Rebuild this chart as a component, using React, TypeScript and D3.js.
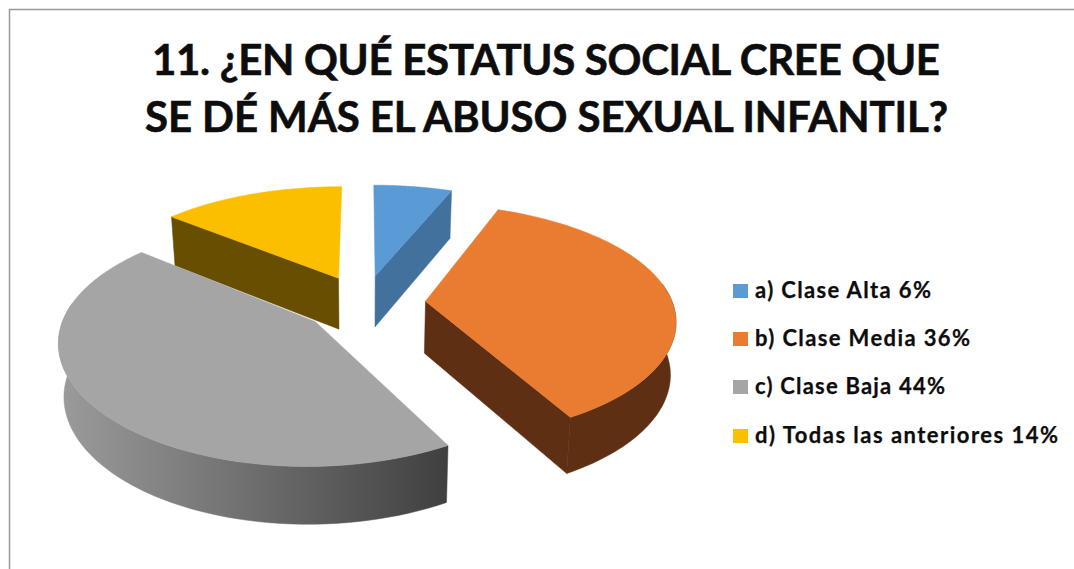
import React from "react"
import * as d3 from "d3"

const categories = ["a) Clase Alta", "b) Clase Media", "c) Clase Baja", "d) Todas las anteriores"]
const values = [6, 36, 44, 14]
const topColors = ["#5B9BD5", "#EA7C31", "#A5A5A5", "#FCBF00"]
const wallColors = ["#43719E", "#5F2F13", "url(#grayWall)", "#674E00"]
const titleLines = ["11. ¿EN QUÉ ESTATUS SOCIAL CREE QUE", "SE DÉ MÁS EL ABUSO SEXUAL INFANTIL?"]

const width = 1074
const height = 569
const font = "Lato, Carlito, sans-serif"

// fake 3d: disc coords go through a small perspective before the scales
const cx = 364
const cy = 303
const rx = 247
const ry = 114
const perspX = 0.145
const perspY = 0.165
const depth = 52
const explode = 0.25

const xScale = d3.scaleLinear().domain([-1, 1]).range([cx - rx, cx + rx])
const yScale = d3.scaleLinear().domain([-1, 1]).range([cy + ry, cy - ry])

const project = (u: number, v: number, z: number): [number, number] => {
  const sx = 1 / (1 + perspX * v)
  const sy = 1 / (1 + perspY * v)
  return [xScale(u * sx * (1 - 0.018 * z)), yScale(v * sy) + z * depth * Math.sqrt(sy)]
}

const line = d3.line()

const pie = d3
  .pie<number>()
  .value(d => d)
  .sort(null)

const slices = pie(values).map((d, i) => {
  const mid = (d.startAngle + d.endAngle) / 2
  const ox = explode * Math.sin(mid)
  const oy = explode * Math.cos(mid)
  const rim = (a: number, z: number) => project(ox + Math.sin(a), oy + Math.cos(a), z)
  const apex = (z: number) => project(ox, oy, z)
  const arcPoints = (a0: number, a1: number, z: number) =>
    d3.range(0, 61).map(k => rim(a0 + ((a1 - a0) * k) / 60, z))

  const top = line([apex(0), ...arcPoints(d.startAngle, d.endAngle, 0)]) + "Z"

  // only the faces that look at the viewer
  const walls: string[] = []
  const a0 = Math.max(d.startAngle, Math.PI * 0.45)
  const a1 = Math.min(d.endAngle, Math.PI * 1.55)
  if (a1 > a0) {
    walls.push(line([...arcPoints(a0, a1, 0), ...arcPoints(a0, a1, 1).reverse()]) + "Z")
  }
  if (Math.sin(d.startAngle) < -0.01) {
    walls.push(line([apex(0), rim(d.startAngle, 0), rim(d.startAngle, 1), apex(1)]) + "Z")
  }
  if (Math.sin(d.endAngle) > 0.01) {
    walls.push(line([apex(0), rim(d.endAngle, 0), rim(d.endAngle, 1), apex(1)]) + "Z")
  }
  return { i, oy, top, walls }
})

const drawOrder = [...slices].sort((a, b) => b.oy - a.oy)

const legendRows = [291, 339, 387, 436]
const legendWidths = [176, 215, 190, 303]

export default function App() {
  return (
    <svg
      width={width}
      height={height}
      style={{ position: "absolute", left: 0, top: 0, display: "block", background: "#fff" }}
    >
      <defs>
        <linearGradient id="grayWall" gradientUnits="userSpaceOnUse" x1={60} x2={446} y1={0} y2={0}>
          <stop offset="0%" stopColor="#9B9B9B" />
          <stop offset="30%" stopColor="#808080" />
          <stop offset="100%" stopColor="#404040" />
        </linearGradient>
      </defs>

      {/* frame, open on the right */}
      <path d="M9.5,569V9.5H1074" fill="none" stroke="#999" strokeWidth={1.5} />

      {/* Title */}
      {titleLines.map((t, i) => (
        <text
          key={t}
          x={i === 0 ? 152 : 145}
          y={75 + i * 57}
          fontFamily={font}
          fontWeight={700}
          fontSize={42}
          fill="#0d0d0d"
          stroke="#0d0d0d"
          strokeWidth={0.6}
          textLength={i === 0 ? 788 : 803}
          lengthAdjust="spacing"
        >
          {t}
        </text>
      ))}

      {drawOrder.map(s => (
        <g key={s.i}>
          {s.walls.map((w, j) => (
            <path key={j} d={w} fill={wallColors[s.i]} stroke={wallColors[s.i]} strokeWidth={0.5} />
          ))}
          {/* same colour stroke so the wall edge doesn't bleed past the rim */}
          <path d={s.top} fill={topColors[s.i]} stroke={topColors[s.i]} strokeWidth={0.6} />
        </g>
      ))}

      {/* Legend */}
      {categories.map((c, i) => (
        <g key={c}>
          <rect x={733} y={legendRows[i] - 7} width={15} height={14} fill={topColors[i]} />
          <text
            x={755}
            y={legendRows[i] + 7}
            fontFamily={font}
            fontWeight={700}
            fontSize={22}
            fill="#0d0d0d"
            stroke="#0d0d0d"
            strokeWidth={0.25}
            textLength={legendWidths[i]}
            lengthAdjust="spacing"
          >
            {`${c} ${values[i]}%`}
          </text>
        </g>
      ))}
    </svg>
  )
}
